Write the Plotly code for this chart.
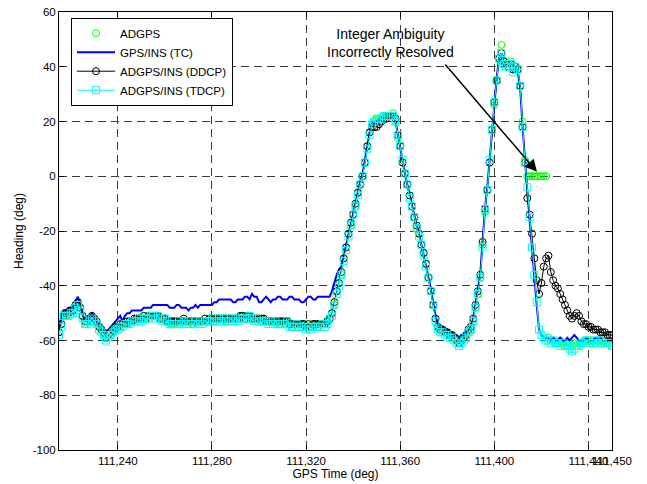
import plotly.graph_objects as go

# ---------------- data ----------------
t_start = 111215
t_end = 111450
gps_time = list(range(t_start, t_end + 1))

adgps = [
    -57, -54, -50, -51, -50, -50, -49, -47, -46, -48,
    -51, -54, -53, -52, -52, -52, -54, -55, -56, -58,
    -59, -58, -57, -57, -56, -55, -55, -54, -54, -54,
    -53, -53, -53, -52, -52, -52, -52, -52, -51, -51,
    -51, -51, -51, -52, -52, -52, -53, -53, -54, -54,
    -53, -53, -53, -53, -53, -53, -53, -54, -53, -53,
    -53, -53, -53, -53, -52, -52, -53, -52, -52, -52,
    -52, -53, -52, -52, -52, -52, -52, -52, -51, -52,
    -51, -51, -52, -52, -52, -52, -53, -52, -53, -53,
    -53, -53, -53, -53, -54, -53, -54, -53, -54, -55,
    -54, -54, -54, -55, -54, -55, -55, -55, -54, -54,
    -55, -54, -54, -54, -53, -52, -50, -47, -42, -39,
    -36, -30, -26, -21, -18, -14, -11, -6, -3, 0,
    5, 11, 16, 19, 20, 21, 21, 21, 22, 22,
    22, 22, 23, 20, 14, 11, 5, 1, -3, -7,
    -11, -15, -19, -21, -25, -28, -32, -37, -42, -47,
    -52, -55, -56, -56, -57, -57, -58, -58, -59, -60,
    -61, -60, -59, -58, -57, -56, -53, -48, -43, -37,
    -25, -13, -5, 5, 17, 26, 35, 43, 48, 42,
    41, 41, 42, 39, 40, 39, 33, 20, 6, 0,
    0, 0, 0, 0, 0, 0, 0, 0, -59, -60,
    -60, -61, -61, -60, -61, -62, -62, -61, -62, -61,
    -62, -61, -61, -60, -60, -60, -60, -60, -61, -60,
    -60, -60, -60, -61, -61, -62,
]

gps_ins_tc = [
    -56, -51, -49, -49, -48, -48, -48, -46, -44, -47,
    -50, -53, -52, -51, -50, -51, -53, -55, -56, -56,
    -57, -56, -55, -54, -53, -52, -51, -53, -51, -50,
    -50, -49, -49, -49, -49, -49, -48, -48, -48, -48,
    -47, -47, -47, -47, -47, -47, -47, -48, -48, -48,
    -47, -47, -48, -48, -48, -49, -48, -48, -47, -48,
    -47, -47, -47, -47, -47, -47, -46, -46, -45, -45,
    -45, -45, -45, -45, -46, -46, -45, -45, -45, -44,
    -44, -45, -43, -44, -44, -46, -46, -45, -44, -45,
    -46, -45, -45, -44, -44, -45, -45, -45, -44, -44,
    -45, -45, -45, -46, -46, -45, -44, -44, -45, -45,
    -44, -44, -44, -44, -44, -44, -42, -39, -36, -34,
    -33, -29, -25, -21, -17, -13, -10, -6, -2, 1,
    6, 11, 16, 19, 20, 20, 21, 21, 21, 22,
    22, 22, 22, 20, 15, 11, 6, 1, -3, -7,
    -10, -15, -18, -21, -25, -28, -32, -36, -41, -46,
    -51, -54, -55, -55, -56, -56, -57, -57, -58, -58,
    -59, -58, -58, -57, -56, -55, -52, -47, -42, -36,
    -24, -12, -4, 6, 17, 27, 36, 43, 45, 41,
    40, 40, 41, 38, 39, 38, 32, 18, 5, -5,
    -16, -27, -37, -47, -56, -58, -59, -59, -59, -60,
    -59, -60, -60, -59, -60, -60, -59, -60, -59, -58,
    -59, -60, -60, -60, -59, -60, -60, -60, -59, -59,
    -59, -60, -60, -60, -60, -60,
]

adgps_ins_ddcp = [
    -57, -54, -51, -50, -50, -49, -49, -47, -46, -48,
    -51, -53, -53, -52, -51, -52, -53, -55, -56, -57,
    -59, -58, -57, -56, -55, -55, -54, -54, -54, -53,
    -53, -53, -52, -52, -52, -52, -51, -52, -51, -51,
    -51, -51, -51, -52, -52, -52, -53, -53, -53, -53,
    -53, -53, -53, -52, -53, -53, -53, -53, -53, -53,
    -53, -53, -52, -53, -52, -52, -52, -52, -52, -52,
    -52, -52, -52, -52, -52, -52, -52, -51, -51, -52,
    -51, -51, -52, -52, -52, -52, -52, -52, -53, -53,
    -53, -53, -53, -53, -53, -53, -53, -53, -54, -54,
    -54, -54, -54, -54, -54, -55, -54, -55, -54, -54,
    -54, -54, -54, -54, -53, -52, -50, -46, -42, -39,
    -35, -30, -26, -21, -17, -14, -10, -6, -3, 0,
    5, 11, 16, 18, 18, 18, 19, 20, 21, 21,
    22, 22, 22, 21, 15, 11, 5, 1, -3, -7,
    -11, -15, -18, -21, -25, -28, -32, -37, -42, -47,
    -52, -55, -56, -56, -57, -57, -58, -58, -59, -60,
    -61, -60, -59, -58, -56, -55, -52, -47, -42, -36,
    -24, -12, -5, 5, 17, 27, 35, 43, 45, 42,
    41, 40, 41, 39, 40, 39, 33, 18, 5, -8,
    -14, -21, -30, -38, -43, -39, -33, -30, -29, -35,
    -38, -40, -41, -43, -45, -47, -49, -51, -52, -51,
    -50, -51, -53, -54, -54, -55, -55, -56, -56, -56,
    -57, -57, -57, -58, -58, -58,
]

adgps_ins_tdcp = [
    -58, -55, -51, -51, -51, -50, -50, -48, -47, -49,
    -52, -54, -54, -53, -52, -53, -54, -56, -57, -58,
    -60, -59, -58, -57, -56, -56, -55, -55, -54, -54,
    -54, -53, -53, -53, -52, -53, -52, -52, -52, -51,
    -51, -52, -51, -52, -53, -52, -53, -54, -54, -54,
    -54, -53, -54, -53, -54, -53, -54, -54, -53, -54,
    -53, -54, -53, -53, -53, -52, -53, -53, -52, -53,
    -52, -53, -53, -52, -53, -52, -53, -52, -52, -52,
    -52, -51, -52, -53, -52, -53, -53, -53, -53, -54,
    -53, -54, -53, -54, -54, -54, -54, -53, -55, -55,
    -55, -54, -55, -55, -55, -56, -55, -56, -55, -55,
    -55, -55, -54, -55, -54, -52, -51, -47, -43, -40,
    -36, -31, -27, -22, -18, -14, -11, -7, -3, 0,
    5, 10, 15, 19, 20, 21, 21, 21, 22, 22,
    22, 22, 22, 20, 15, 11, 6, 1, -3, -8,
    -11, -15, -19, -22, -25, -29, -33, -37, -42, -47,
    -53, -56, -57, -57, -58, -58, -59, -59, -60, -61,
    -62, -61, -60, -59, -57, -56, -53, -48, -43, -37,
    -26, -12, -5, 6, 17, 27, 35, 43, 45, 41,
    40, 40, 41, 38, 40, 39, 33, 18, 5, -4,
    -15, -26, -36, -46, -56, -58, -59, -60, -60, -61,
    -60, -61, -61, -62, -61, -62, -62, -63, -64, -63,
    -62, -62, -61, -61, -60, -60, -61, -61, -60, -61,
    -60, -61, -61, -61, -61, -62,
]

x_tick_vals = [111240, 111280, 111320, 111360, 111400, 111440, 111450]
x_tick_text = ["111,240", "111,280", "111,320", "111,360", "111,400", "111,440", "111,450"]
y_tick_vals = [-100, -80, -60, -40, -20, 0, 20, 40, 60]
y_tick_text = ["-100", "-80", "-60", "-40", "-20", "0", "20", "40", "60"]

# ---------------- figure ----------------
FONT = "Arial, Liberation Sans, Helvetica, sans-serif"

fig = go.Figure()
fig.add_trace(go.Scatter(
    x=gps_time, y=adgps, name="ADGPS", mode="markers",
    marker=dict(symbol="circle-open", size=7, color="#00ff00", line=dict(width=1, color="#00ff00")),
))
fig.add_trace(go.Scatter(
    x=gps_time, y=gps_ins_tc, name="GPS/INS (TC)", mode="lines",
    line=dict(color="#0000ff", width=2),
))
fig.add_trace(go.Scatter(
    x=gps_time, y=adgps_ins_ddcp, name="ADGPS/INS (DDCP)", mode="lines+markers",
    line=dict(color="#000000", width=1),
    marker=dict(symbol="circle-open", size=7, color="#000000", line=dict(width=1, color="#000000")),
))
fig.add_trace(go.Scatter(
    x=gps_time, y=adgps_ins_tdcp, name="ADGPS/INS (TDCP)", mode="lines+markers",
    line=dict(color="#00ffff", width=1),
    marker=dict(symbol="square-open", size=7, color="#00ffff", line=dict(width=1, color="#00ffff")),
))

axis_common = dict(
    showline=True, linecolor="black", linewidth=1, mirror="ticks",
    ticks="inside", ticklen=5, tickcolor="black", tickwidth=1,
    showgrid=True, gridcolor="#3a3a3a", gridwidth=1, griddash="8px,5px",
    zeroline=False, automargin=False, tickangle=0,
    tickfont=dict(family=FONT, size=11.5, color="black"),
)

fig.update_layout(
    width=647, height=484,
    margin=dict(l=59, r=35, t=12, b=34),
    paper_bgcolor="white", plot_bgcolor="white",
    font=dict(family=FONT, color="black"),
    xaxis=dict(range=[t_start, t_end], tickmode="array", tickvals=x_tick_vals, ticktext=x_tick_text,
               title=dict(text="GPS Time (deg)", font=dict(family=FONT, size=12), standoff=2),
               **axis_common),
    yaxis=dict(range=[-100, 60], tickmode="array", tickvals=y_tick_vals, ticktext=y_tick_text,
               title=dict(text="Heading (deg)", font=dict(family=FONT, size=12), standoff=6),
               **axis_common),
    legend=dict(x=0.0217, y=0.987, xanchor="left", yanchor="top",
                bgcolor="white", bordercolor="black", borderwidth=1,
                font=dict(family=FONT, size=11.5, color="black"),
                itemwidth=38, tracegroupgap=0),
    showlegend=True,
    annotations=[
        dict(x=111355.7, y=48.6, xref="x", yref="y", showarrow=False,
             text="Integer Ambiguity<br>Incorrectly Resolved",
             font=dict(family=FONT, size=14, color="black"), align="center"),
        dict(x=111418.1, y=1.6, ax=111378.6, ay=41.4, xref="x", yref="y", axref="x", ayref="y",
             text="", showarrow=True, arrowhead=2, arrowsize=1.6, arrowwidth=1.5, arrowcolor="black"),
    ],
)

fig.write_html("out.html")
